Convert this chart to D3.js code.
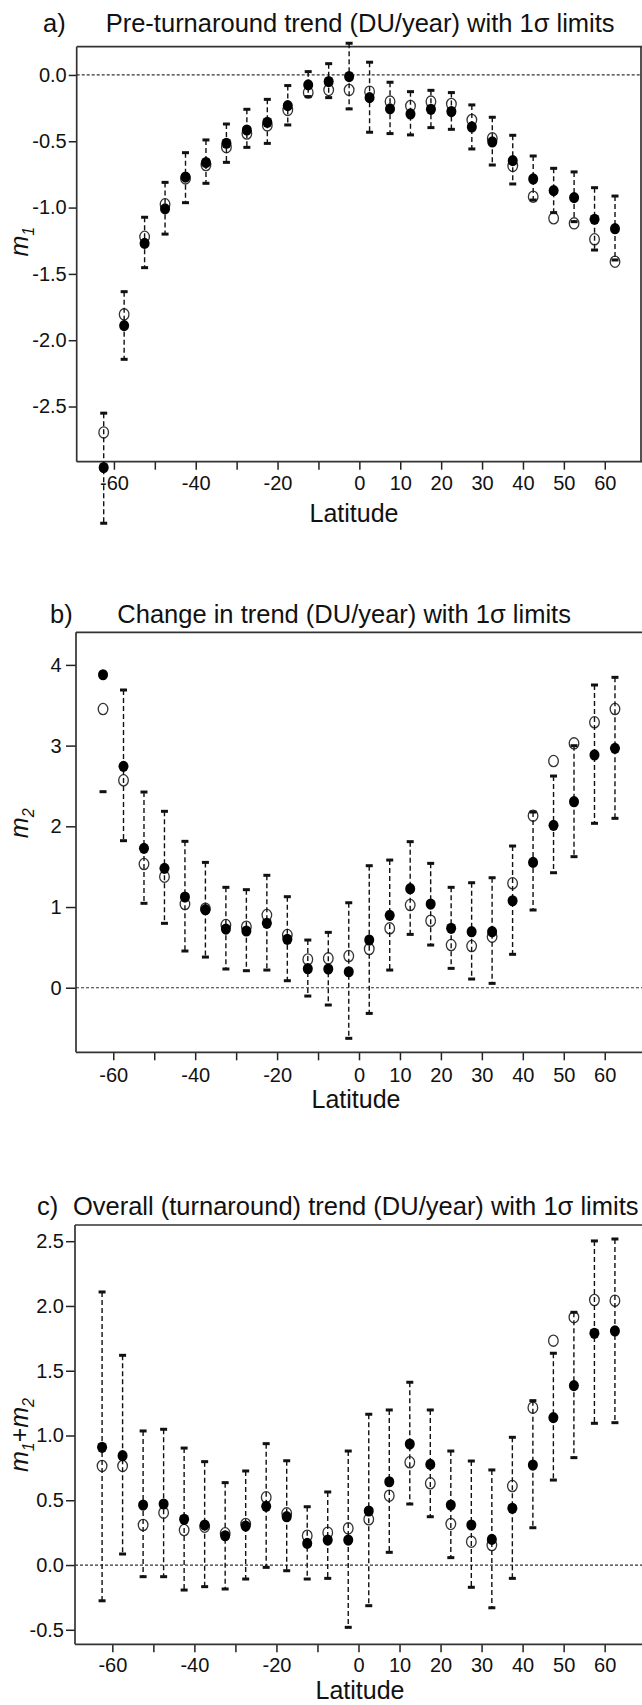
<!DOCTYPE html>
<html lang="en">
<head>
    <meta charset="UTF-8">
    <title>Latitude trends with 1 sigma limits</title>
    <script src="https://d3js.org/d3.v7.min.js"></script>
    <style>
        body { margin: 0; background: #fff; }
        svg text { font-family: "Liberation Sans", Arial, sans-serif; fill: #111; }
    </style>
</head>
<body>
    <div id="chart"></div>

    <script>
        // latitude bands (centres)
        const lats = [-62.5, -57.5, -52.5, -47.5, -42.5, -37.5, -32.5, -27.5, -22.5, -17.5, -12.5, -7.5, -2.5,
                      2.5, 7.5, 12.5, 17.5, 22.5, 27.5, 32.5, 37.5, 42.5, 47.5, 52.5, 57.5, 62.5];

        // a) m1
        const m1Filled = [-2.96, -1.89, -1.27, -1.01, -0.77, -0.66, -0.515, -0.415, -0.357, -0.231, -0.075, -0.05, -0.012,
                          -0.171, -0.256, -0.294, -0.259, -0.276, -0.392, -0.505, -0.646, -0.784, -0.872, -0.925, -1.088, -1.159];
        const m1Open = [-2.695, -1.805, -1.22, -0.975, -0.78, -0.679, -0.545, -0.442, -0.38, -0.264, -0.133, -0.113, -0.113,
                        -0.126, -0.201, -0.234, -0.201, -0.219, -0.339, -0.478, -0.686, -0.918, -1.081, -1.119, -1.239, -1.408];
        const m1Hi = [-2.55, -1.634, -1.073, -0.81, -0.586, -0.49, -0.37, -0.259, -0.184, -0.08, 0.025, 0.085, 0.239,
                      0.096, -0.055, -0.126, -0.116, -0.133, -0.226, -0.319, -0.455, -0.611, -0.704, -0.731, -0.85, -0.913];
        const m1Lo = [-3.38, -2.144, -1.453, -1.2, -0.963, -0.817, -0.659, -0.546, -0.516, -0.377, -0.163, -0.171, -0.256,
                      -0.432, -0.442, -0.452, -0.397, -0.41, -0.558, -0.679, -0.822, -0.943, -1.038, -1.106, -1.32, -1.395];

        // b) m2
        const m2Filled = [3.878, 2.743, 1.727, 1.479, 1.124, 0.967, 0.727, 0.703, 0.798, 0.6, 0.236, 0.232, 0.198,
                          0.591, 0.897, 1.227, 1.037, 0.736, 0.694, 0.694, 1.078, 1.553, 2.012, 2.305, 2.884, 2.966];
        const m2Open = [3.453, 2.57, 1.533, 1.376, 1.037, 0.98, 0.777, 0.756, 0.901, 0.653, 0.351, 0.364, 0.393,
                        0.48, 0.736, 1.025, 0.83, 0.529, 0.517, 0.632, 1.294, 2.132, 2.809, 3.028, 3.289, 3.453];
        const m2Hi = [null, 3.689, 2.425, 2.186, 1.814, 1.553, 1.244, 1.215, 1.393, 1.128, 0.591, 0.686, 1.053,
                      1.512, 1.582, 1.81, 1.541, 1.244, 1.301, 1.363, 1.756, 2.177, 2.623, 2.999, 3.751, 3.846];
        const m2Lo = [2.429, 1.822, 1.046, 0.798, 0.455, 0.38, 0.232, 0.211, 0.219, 0.087, -0.103, -0.214, -0.627,
                      -0.318, 0.219, 0.661, 0.529, 0.24, 0.108, 0.054, 0.414, 0.963, 1.425, 1.624, 2.037, 2.099];

        // c) m1+m2
        const m12Filled = [0.909, 0.844, 0.463, 0.471, 0.353, 0.309, 0.226, 0.301, 0.453, 0.373, 0.167, 0.193, 0.193,
                           0.417, 0.643, 0.934, 0.777, 0.463, 0.309, 0.198, 0.438, 0.772, 1.138, 1.385, 1.789, 1.807];
        const m12Open = [0.765, 0.765, 0.309, 0.404, 0.27, 0.296, 0.245, 0.317, 0.523, 0.399, 0.226, 0.25, 0.283,
                         0.353, 0.535, 0.793, 0.631, 0.317, 0.18, 0.154, 0.61, 1.215, 1.732, 1.913, 2.046, 2.041];
        const m12Hi = [2.108, 1.619, 1.035, 1.048, 0.903, 0.798, 0.636, 0.726, 0.937, 0.805, 0.45, 0.564, 0.88,
                       1.164, 1.197, 1.411, 1.197, 0.88, 0.803, 0.734, 0.986, 1.269, 1.635, 1.951, 2.502, 2.517];
        const m12Lo = [-0.276, 0.085, -0.09, -0.09, -0.193, -0.167, -0.185, -0.108, -0.018, -0.044, -0.108, -0.103, -0.481,
                       -0.314, 0.098, 0.471, 0.373, 0.057, -0.172, -0.33, -0.103, 0.288, 0.656, 0.829, 1.094, 1.099];

        // axis ticks
        const xTicks = [-60, -50, -40, -30, -20, -10, 0, 10, 20, 30, 40, 50, 60];
        const xTickLabels = ["-60", "", "-40", "", "-20", "", "0", "10", "20", "30", "40", "50", "60"];
        const yTicksA = [0, -0.5, -1, -1.5, -2, -2.5];
        const yTicksB = [0, 1, 2, 3, 4];
        const yTicksC = [-0.5, 0, 0.5, 1, 1.5, 2, 2.5];

        const titles = ["Pre-turnaround trend (DU/year) with 1\u03c3 limits",
                        "Change in trend (DU/year) with 1\u03c3 limits",
                        "Overall (turnaround) trend (DU/year) with 1\u03c3 limits"];

        const width = 642, height = 1705;
        const svg = d3.select("#chart").append("svg")
            .attr("width", width)
            .attr("height", height);

        const panels = [
            { tag: "a)", title: titles[0], tagX: 43, titleX: 105.7, titleY: 32,
              left: 76.7, top: 46.7, bottom: 461.7, yDomain: [0.213, -2.916], yTicks: yTicksA, fmt: d => d.toFixed(1),
              tick: 8, pad: 2, xLabY: 28.5, latX: 354, latY: 521.7, yLabY: 241.7, rightBorder: true,
              filled: m1Filled, open: m1Open, hi: m1Hi, lo: m1Lo, ylab: [["m", 0], ["1", 1]] },
            { tag: "b)", title: titles[1], tagX: 50, titleX: 117.3, titleY: 623,
              left: 76, top: 632.3, bottom: 1052.3, yDomain: [4.404, -0.80], yTicks: yTicksB, fmt: d => String(d),
              tick: 10, pad: 4.5, xLabY: 29.4, latX: 356, latY: 1108, yLabY: 823.3, rightBorder: false,
              filled: m2Filled, open: m2Open, hi: m2Hi, lo: m2Lo, ylab: [["m", 0], ["2", 1]] },
            { tag: "c)", title: titles[2], tagX: 36.9, titleX: 72.9, titleY: 1215,
              left: 75, top: 1225, bottom: 1644.3, yDomain: [2.625, -0.612], yTicks: yTicksC, fmt: d => d.toFixed(1),
              tick: 9, pad: 2, xLabY: 27.4, latX: 360, latY: 1699, yLabY: 1435, rightBorder: false,
              filled: m12Filled, open: m12Open, hi: m12Hi, lo: m12Lo,
              ylab: [["m", 0], ["1", 1], ["+", 0], ["m", 0], ["2", 1]] }
        ];

        panels.forEach(p => {
            const g = svg.append("g");
            const x = d3.scaleLinear().domain([-69.1, 69.1]).range([p.left, width]);
            const y = d3.scaleLinear().domain(p.yDomain).range([p.top, p.bottom]);

            // titles
            g.append("text").attr("x", p.tagX).attr("y", p.titleY)
                .attr("font-size", 25.5).text(p.tag);
            g.append("text").attr("x", p.titleX).attr("y", p.titleY)
                .attr("font-size", 25.5).text(p.title);

            // zero line
            g.append("line")
                .attr("x1", p.left).attr("x2", width)
                .attr("y1", y(0)).attr("y2", y(0))
                .attr("stroke", "#333").attr("stroke-width", 1.2)
                .attr("stroke-dasharray", "3,2");

            // x axis
            const xAxis = g.append("g")
                .attr("transform", `translate(0,${p.bottom})`)
                .call(d3.axisBottom(x).tickValues(xTicks).tickSize(8)
                    .tickFormat((d, i) => xTickLabels[i]));
            xAxis.select(".domain").remove();
            xAxis.selectAll("line").attr("stroke", "#222").attr("stroke-width", 1.5);
            xAxis.selectAll("text").attr("dy", null).attr("y", p.xLabY)
                .attr("font-size", 20).attr("fill", "#111");

            // y axis
            const yAxis = g.append("g")
                .attr("transform", `translate(${p.left},0)`)
                .call(d3.axisLeft(y).tickValues(p.yTicks).tickSize(p.tick).tickPadding(p.pad)
                    .tickFormat(p.fmt));
            yAxis.select(".domain").remove();
            yAxis.selectAll("line").attr("stroke", "#222").attr("stroke-width", 1.5);
            yAxis.selectAll("text").attr("font-size", 20).attr("fill", "#111");

            // frame
            const frame = [[p.left, p.top, width, p.top],
                           [p.left, p.top, p.left, p.bottom],
                           [p.left, p.bottom, width, p.bottom]];
            if (p.rightBorder) frame.push([width - 1, p.top, width - 1, p.bottom]);
            g.selectAll(".frame").data(frame).join("line")
                .attr("x1", d => d[0]).attr("y1", d => d[1])
                .attr("x2", d => d[2]).attr("y2", d => d[3])
                .attr("stroke", "#333").attr("stroke-width", 1.7);

            // axis titles
            g.append("text").attr("x", p.latX).attr("y", p.latY)
                .attr("text-anchor", "middle").attr("font-size", 25).text("Latitude");

            const yl = g.append("text")
                .attr("transform", `translate(28,${p.yLabY}) rotate(-90)`)
                .attr("text-anchor", "middle")
                .attr("font-size", 25).attr("font-style", "italic");
            let prev = 0;
            p.ylab.forEach(([t, sub]) => {
                yl.append("tspan")
                    .attr("dy", (sub - prev) * 6)
                    .attr("font-size", sub ? 16 : 25)
                    .attr("font-style", t === "+" ? "normal" : "italic")
                    .text(t);
                prev = sub;
            });

            const pts = lats.map((lat, i) => ({ lat, f: p.filled[i], o: p.open[i], hi: p.hi[i], lo: p.lo[i] }));

            // open circles
            g.selectAll(".open").data(pts).join("ellipse")
                .attr("cx", d => x(d.lat)).attr("cy", d => y(d.o))
                .attr("rx", 4.8).attr("ry", 5.6)
                .attr("fill", "#fff").attr("stroke", "#333").attr("stroke-width", 1.3);

            // error bars
            g.selectAll(".bar").data(pts.filter(d => d.hi !== null)).join("line")
                .attr("x1", d => x(d.lat)).attr("x2", d => x(d.lat))
                .attr("y1", d => y(d.hi)).attr("y2", d => y(d.lo))
                .attr("stroke", "#111").attr("stroke-width", 1.4)
                .attr("stroke-dasharray", "5,3");

            const caps = [];
            pts.forEach(d => {
                if (d.hi !== null) caps.push({ lat: d.lat, v: d.hi });
                caps.push({ lat: d.lat, v: d.lo });
            });
            g.selectAll(".cap").data(caps).join("rect")
                .attr("x", d => x(d.lat) - 3.5).attr("y", d => y(d.v) - 1.5)
                .attr("width", 7).attr("height", 3)
                .attr("fill", "#111");

            // filled circles
            g.selectAll(".filled").data(pts).join("ellipse")
                .attr("cx", d => x(d.lat)).attr("cy", d => y(d.f))
                .attr("rx", 5).attr("ry", 5.6)
                .attr("fill", "#000");
        });
    </script>
</body>
</html>
